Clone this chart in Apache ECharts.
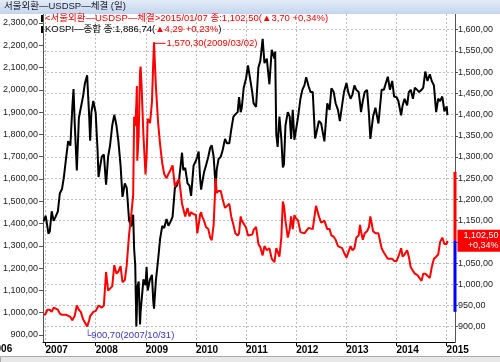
<!DOCTYPE html>
<html><head><meta charset="utf-8">
<script src="https://cdn.jsdelivr.net/npm/echarts@6/dist/echarts.min.js"></script>
<style>html,body{margin:0;padding:0;background:#fff}#c{width:500px;height:362px}</style>
</head><body><div id="c"></div>
<script>
const dates = ["2006-12-18","2007-01-02","2007-01-15","2007-01-22","2007-02-01","2007-02-15","2007-03-01","2007-03-15","2007-04-01","2007-04-15","2007-05-01","2007-05-15","2007-06-01","2007-06-15","2007-07-01","2007-07-15","2007-07-24","2007-08-01","2007-08-17","2007-09-01","2007-09-15","2007-10-01","2007-10-15","2007-10-31","2007-11-15","2007-11-22","2007-12-01","2007-12-15",
"2008-01-01","2008-01-15","2008-01-22","2008-02-01","2008-02-15","2008-03-01","2008-03-17","2008-04-01","2008-04-15","2008-05-01","2008-05-16","2008-06-01","2008-06-15","2008-07-01","2008-07-15","2008-08-01","2008-08-15","2008-09-01","2008-09-16","2008-10-01","2008-10-08","2008-10-16","2008-10-24","2008-10-28","2008-10-31","2008-11-10","2008-11-20","2008-11-24","2008-12-01","2008-12-15","2008-12-30",
"2009-01-07","2009-01-15","2009-02-01","2009-02-15","2009-02-24","2009-03-02","2009-03-15","2009-04-01","2009-04-15","2009-05-01","2009-05-15","2009-06-01","2009-06-15","2009-07-01","2009-07-15","2009-08-01","2009-08-15","2009-09-01","2009-09-22","2009-10-01","2009-10-15","2009-11-01","2009-11-15","2009-11-27","2009-12-15",
"2010-01-01","2010-01-11","2010-01-21","2010-02-01","2010-02-08","2010-02-15","2010-03-01","2010-03-15","2010-04-01","2010-04-15","2010-04-26","2010-05-10","2010-05-25","2010-06-01","2010-06-15","2010-07-01","2010-07-15","2010-08-01","2010-08-15","2010-09-01","2010-09-15","2010-10-01","2010-10-15","2010-11-01","2010-11-11","2010-11-23","2010-12-01","2010-12-15",
"2011-01-01","2011-01-15","2011-01-27","2011-02-15","2011-02-25","2011-03-15","2011-04-01","2011-04-15","2011-05-02","2011-05-15","2011-06-01","2011-06-20","2011-07-07","2011-07-27","2011-08-01","2011-08-09","2011-08-19","2011-09-01","2011-09-15","2011-09-26","2011-10-04","2011-10-15","2011-11-01","2011-11-15","2011-11-25","2011-12-07","2011-12-19",
"2012-01-01","2012-01-15","2012-02-01","2012-02-15","2012-03-01","2012-03-14","2012-04-01","2012-04-15","2012-05-01","2012-05-18","2012-05-25","2012-06-15","2012-07-01","2012-07-25","2012-08-15","2012-09-01","2012-09-14","2012-10-01","2012-10-15","2012-11-01","2012-11-15","2012-12-01","2012-12-15",
"2013-01-02","2013-01-15","2013-02-01","2013-02-15","2013-03-01","2013-03-15","2013-04-01","2013-04-11","2013-04-18","2013-05-01","2013-05-15","2013-06-01","2013-06-15","2013-06-25","2013-07-15","2013-08-01","2013-08-23","2013-09-15","2013-10-01","2013-10-30","2013-11-15","2013-12-01","2013-12-15",
"2014-01-02","2014-01-15","2014-02-04","2014-02-15","2014-03-01","2014-03-20","2014-04-01","2014-04-15","2014-05-01","2014-05-15","2014-06-01","2014-06-15","2014-07-03","2014-07-15","2014-07-30","2014-08-15","2014-09-01","2014-09-15","2014-10-01","2014-10-17","2014-11-01","2014-11-15","2014-12-01","2014-12-16","2015-01-02","2015-01-07"];
const kospi = [1410,1435,1385,1355,1365,1455,1412,1430,1455,1535,1555,1610,1700,1770,1750,1920,2004,1860,1638,1875,1880,1970,2030,2065,1880,1772,1900,1950,
1897,1730,1609,1650,1700,1710,1574,1700,1750,1840,1888,1840,1770,1660,1520,1580,1560,1414,1387,1440,1286,1213,938,1019,1113,1140,947,1002,1000,1150,1124,
1205,1100,1150,1170,1055,1018,1140,1240,1330,1390,1380,1420,1390,1410,1430,1560,1570,1600,1718,1640,1650,1580,1570,1524,1660,
1682,1700,1723,1600,1552,1580,1630,1660,1700,1740,1752,1700,1560,1640,1690,1700,1730,1780,1760,1760,1820,1880,1890,1900,1967,1900,1920,2010,
2051,2110,2115,1990,1939,1924,2100,2130,2229,2120,2140,2025,2180,2140,2172,1801,1744,1880,1780,1652,1666,1840,1900,1880,1780,1910,1776,
1825,1880,1960,2000,2020,2057,2015,1990,1990,1782,1800,1860,1850,1769,1940,1910,2007,1990,1940,1910,1860,1930,1990,
2031,1990,1960,1980,2020,2000,1990,1940,1900,1950,1990,2000,1890,1780,1880,1920,1849,2000,2000,2059,2000,2040,1970,
1967,1950,1886,1930,1960,1930,1990,2000,1960,2010,2000,1990,2000,2010,2082,2040,2070,2040,2020,1900,1960,1950,1970,1904,1926,1886.74];
const usdkrw = [928,930,940,941,940,935,945,946,940,931,928,925,928,929,923,915,913,925,950,940,935,918,915,900.7,915,925,925,935,
937,945,950,947,945,950,1029,985,985,995,1045,1025,1030,1043,1005,1010,1045,1117,1160,1210,1395,1373,1424,1467,1291,1350,1500,1513,1470,1350,1259,
1300,1390,1380,1430,1520,1570.3,1470,1380,1330,1285,1260,1250,1260,1270,1280,1230,1240,1248,1190,1178,1160,1180,1160,1170,1165,
1164,1120,1140,1165,1170,1160,1150,1135,1130,1110,1104,1140,1250,1215,1220,1220,1200,1180,1180,1190,1160,1140,1120,1115,1120,1160,1150,1150,
1134,1115,1112,1117,1128,1135,1095,1087,1068,1090,1080,1085,1060,1052,1055,1085,1077,1065,1110,1195,1185,1150,1110,1130,1160,1130,1163,
1155,1150,1123,1125,1120,1122,1133,1135,1130,1170,1185,1160,1145,1150,1130,1130,1115,1112,1105,1090,1087,1085,1075,
1063,1060,1090,1080,1085,1110,1115,1140,1125,1105,1120,1125,1135,1160,1125,1120,1120,1085,1075,1060,1060,1060,1055,
1055,1065,1085,1065,1070,1080,1065,1040,1032,1025,1022,1020,1008,1025,1025,1020,1015,1040,1060,1065,1070,1100,1110,1095,1095,1102.5];
const leftTicks = [900,1000,1100,1200,1300,1400,1500,1600,1700,1800,1900,2000,2100,2200,2300];
const rightTicks = [900,950,1000,1050,1100,1150,1200,1250,1300,1350,1400,1450,1500,1550,1600];
const yearTicks = [2007,2008,2009,2010,2011,2012,2013,2014,2015];
const usdHigh = {date:"2009-03-02", value:1570.3, text:"1,570,30(2009/03/02)"};
const usdLow = {date:"2007-10-31", value:900.7, text:"900,70(2007/10/31)"};
const rangeTop = 1265, rangeBottom = 935, lastUsd = 1102.5;
const titleText = "서울외환—USDSP—체결 (일)";
const legend1 = "<서울외환—USDSP—체결>2015/01/07 종:1,102,50(▲3,70 +0,34%)";
const legend2a = "KOSPI—종합 종:1,886,74(", legend2b = "▲4,29 +0,23%", legend2c = ")";
const lastLabel = ["1,102,50","+0,34%"];

function dec(s){const [y,m,d]=s.split('-').map(Number);const t=Date.UTC(y,m-1,d),t0=Date.UTC(y,0,1),t1=Date.UTC(y+1,0,1);return y+(t-t0)/(t1-t0);}
function fmt(v){const s=Math.round(v).toString().replace(/\B(?=(\d{3})+(?!\d))/g,',');return s+',00';}
const xMin=2006.9505, xMax=2015.168;
const FONT='"Liberation Sans","Noto Sans CJK KR",sans-serif';
const chart=echarts.init(document.getElementById('c'),null,{renderer:'canvas'});
chart.setOption({
  animation:false,
  backgroundColor:'#fff',
  grid:{left:40,right:45,top:14,bottom:20,containLabel:false},
  xAxis:{type:'value',min:xMin,max:xMax,
    axisLine:{lineStyle:{color:'#000',width:1}},
    axisTick:{customValues:yearTicks,length:4,lineStyle:{color:'#000'}},
    axisLabel:{customValues:yearTicks,align:'left',margin:3,fontSize:10,fontWeight:'bold',color:'#000',fontFamily:FONT,formatter:v=>String(v)},
    splitLine:{show:true,lineStyle:{color:'#bbb',type:[2,2]}}},
  yAxis:[
    {type:'value',position:'left',min:868.6,max:2340.4,
     axisLine:{show:true,lineStyle:{color:'#555'}},
     axisTick:{customValues:leftTicks,length:4,lineStyle:{color:'#555'}},
     axisLabel:{customValues:leftTicks,margin:5,fontSize:9,color:'#222',fontFamily:FONT,formatter:fmt},
     splitLine:{show:false}},
    {type:'value',position:'right',min:863.94,max:1637.0,
     axisLine:{show:true,lineStyle:{color:'#555'}},
     axisTick:{customValues:rightTicks,length:3,lineStyle:{color:'#555'}},
     axisLabel:{customValues:rightTicks,margin:3,fontSize:9,color:'#222',fontFamily:FONT,formatter:fmt},
     splitLine:{show:true,lineStyle:{color:'#bbb',type:[2,2]}}}
  ],
  series:[
    {name:'KOSPI',type:'line',yAxisIndex:0,showSymbol:false,symbol:'none',clip:false,
     lineStyle:{color:'#000',width:2},data:dates.map((d,i)=>[dec(d),kospi[i]])},
    {name:'USDKRW',type:'line',yAxisIndex:1,showSymbol:false,symbol:'none',clip:false,
     lineStyle:{color:'#ff0000',width:2},data:dates.map((d,i)=>[dec(d),usdkrw[i]]),
     markPoint:{symbol:'rect',symbolSize:1,itemStyle:{color:'rgba(0,0,0,0)'},
      data:[
       {coord:[dec(usdHigh.date),usdHigh.value],label:{show:true,position:'right',distance:0,offset:[0,1],
         formatter:'{ln|}{t|'+usdHigh.text+'}',
         rich:{ln:{width:11,height:1,backgroundColor:'#ff0000'},t:{color:'#ff0000',fontSize:9.5,fontFamily:FONT,padding:[0,0,0,1]}}}},
       {coord:[dec(usdLow.date),usdLow.value],label:{show:true,position:'right',distance:0,offset:[-3,9],
         formatter:'└'+usdLow.text,color:'#3333cc',fontSize:9.5,fontFamily:FONT}}
      ]}},
    {name:'rangeUp',type:'line',yAxisIndex:1,symbol:'none',clip:false,lineStyle:{color:'#ff0000',width:3},
     data:[[xMax,lastUsd],[xMax,rangeTop]]},
    {name:'rangeDown',type:'line',yAxisIndex:1,symbol:'none',clip:false,lineStyle:{color:'#0000ff',width:3},
     data:[[xMax,rangeBottom],[xMax,lastUsd]],
     markPoint:{symbol:'rect',symbolSize:1,itemStyle:{color:'rgba(0,0,0,0)'},
      data:[{coord:[xMax,lastUsd],label:{show:true,position:'right',distance:2,
        formatter:'{a|'+lastLabel[0]+'}\n{a|'+lastLabel[1]+'}',backgroundColor:'#ff0000',padding:[1,2,1,2],
        rich:{a:{color:'#fff',width:39,align:'right',fontSize:9,lineHeight:10,fontFamily:FONT}}}}]}}
  ],
  graphic:[
    {type:'rect',left:0,top:0,shape:{width:500,height:14},style:{fill:new echarts.graphic.LinearGradient(0,0,0,1,[{offset:0,color:'#e3ecf8'},{offset:1,color:'#c3d5ee'}])},z:10},
    {type:'text',left:4,top:2,style:{text:titleText,fontSize:9.5,fontFamily:FONT,fill:'#1a1a2a'},z:11},
    {type:'rect',left:41,top:15,shape:{width:2,height:7},style:{fill:'#000'},z:11},
    {type:'text',left:45,top:14,style:{text:legend1,fontSize:9.5,fontFamily:FONT,fill:'#ff0000'},z:11},
    {type:'rect',left:41,top:26,shape:{width:2,height:7},style:{fill:'#000'},z:11},
    {type:'text',left:45,top:25,style:{rich:{k:{fill:'#000',fontSize:9.5,fontFamily:FONT},r:{fill:'#ff0000',fontSize:9.5,fontFamily:FONT}},text:'{k|'+legend2a+'}{r|'+legend2b+'}{k|'+legend2c+'}'},z:11},
    {type:'text',left:-10,top:344,style:{text:'2006',fontSize:10,fontWeight:'bold',fontFamily:FONT,fill:'#000'},z:11},
    {type:'rect',left:0,top:356,shape:{width:500,height:6},style:{fill:'#e8e8e8',stroke:'#aaa',lineWidth:1},z:11}
  ]
});
</script></body></html>
